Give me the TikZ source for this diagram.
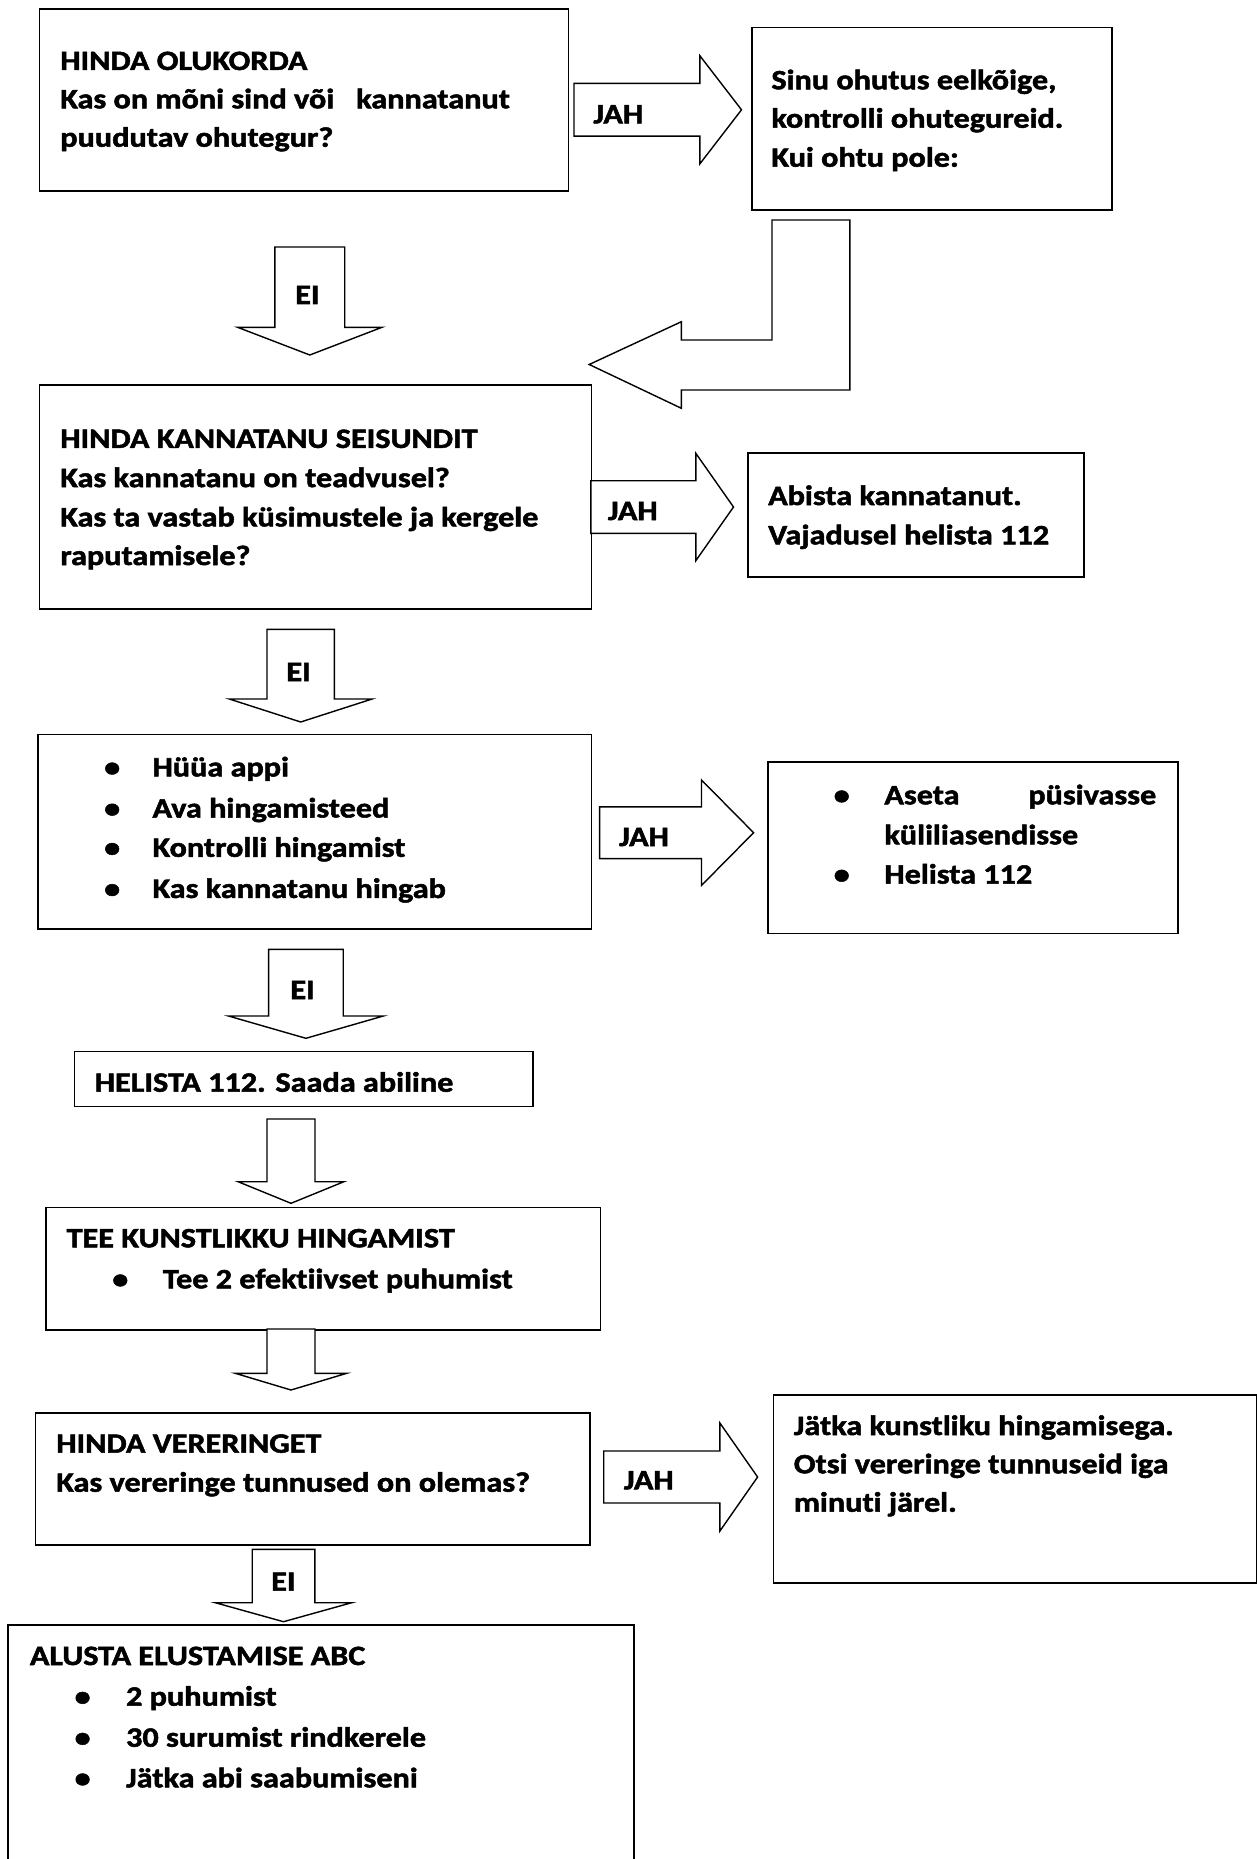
\documentclass[tikz,border=0pt]{standalone}
\usepackage{fontspec}
\setmainfont{Carlito}[Ligatures={TeX,NoCommon}, FakeStretch=1.15, BoldFeatures={FakeBold=1.8}]
\newcommand{\FS}{\fontsize{28}{40}\selectfont\bfseries}
\newcommand{\BlkR}[6]{% x0, xbase, xtip, ycenter, shaft half, head half
  \draw[blk] (#1,#4-#5) -- (#2,#4-#5) -- (#2,#4-#6) -- (#3,#4) -- (#2,#4+#6) -- (#2,#4+#5) -- (#1,#4+#5) -- cycle;}
\newcommand{\BlkD}[6]{% xcenter, ytop, ybase, ytip, shaft half, head half
  \draw[blk] (#1-#5,#2) -- (#1+#5,#2) -- (#1+#5,#3) -- (#1+#6,#3) -- (#1,#4) -- (#1-#6,#3) -- (#1-#5,#3) -- cycle;}
\begin{document}
\begin{tikzpicture}[x=1pt,y=-1pt,
  box/.style={draw, line width=1.6pt, inner sep=0pt, anchor=north west},
  blk/.style={draw, line width=1.4pt, fill=white, line join=miter},
  txt/.style={anchor=base west, inner sep=0pt, font=\FS},
  bul/.style={anchor=base, inner sep=0pt, font=\FS}]
\useasboundingbox[fill=white] (0,0) rectangle (1257,1859);

% boxes
\node[box, minimum width=529.1pt, minimum height=181.7pt] (b1) at (38.5,8.3) {};
\node[box, minimum width=359.8pt, minimum height=182.3pt] (b2) at (751.2,26.7) {};
\node[box, minimum width=552.3pt, minimum height=223.6pt] (b3) at (38.5,384.3) {};
\node[box, minimum width=336pt, minimum height=124pt] (b4) at (747,452) {};
\node[box, minimum width=553.9pt, minimum height=194.6pt] (b5) at (36.9,733.6) {};
\node[box, minimum width=409.7pt, minimum height=171.1pt] (b6) at (767.2,761.4) {};
\node[box, minimum width=458.5pt, minimum height=55pt] (b7) at (73.8,1050.7) {};
\node[box, minimum width=554.7pt, minimum height=122.3pt] (b8) at (44.9,1206.7) {};
\node[box, minimum width=554.7pt, minimum height=132pt] (b9) at (34.5,1412) {};
\node[box, minimum width=483.4pt, minimum height=188pt] (b10) at (772.8,1394) {};
\draw[line width=1.6pt] (8,1870) -- (8,1625) -- (634.1,1625) -- (634.1,1870);

% block arrows
\BlkR{574}{699.9}{741.5}{109.8}{26.4}{54}
\draw[blk] (772,220) -- (849.8,220) -- (849.8,390) -- (681.4,390) -- (681.4,408.3)
  -- (589.2,364.5) -- (681.4,321.7) -- (681.4,340) -- (772,340) -- cycle;
\BlkD{309.8}{247}{327.3}{355}{34.9}{72.2}
\BlkR{590.8}{695.8}{733.5}{507}{26.3}{53.7}
\BlkD{300.7}{629.3}{699}{722}{33.7}{71.4}
\BlkR{599.6}{701.5}{753.6}{832.7}{25.9}{52.7}
\BlkD{305.9}{949.3}{1016}{1038.3}{37.3}{77.4}
\BlkD{291}{1119}{1181.7}{1203.3}{24}{52.9}
\BlkD{291}{1329}{1373.3}{1390}{24}{55.7}
\BlkR{603.7}{719.9}{757.6}{1477}{26}{54}
\BlkD{283.5}{1549.3}{1602.7}{1621.7}{31.3}{68.2}

% arrow labels
\node[txt] (l1) at (593.2,123.3) {JAH};
\node[txt] (l2) at (295,304) {EI};
\node[txt] (l3) at (607.7,520) {JAH};
\node[txt] (l4) at (286.2,681) {EI};
\node[txt] (l5) at (618.9,846) {JAH};
\node[txt] (l6) at (290.2,999) {EI};
\node[txt] (l7) at (623.7,1489.3) {JAH};
\node[txt] (l8) at (271,1590.7) {EI};

% box 1
\node[txt] (t1a) at (60.1,70) {HINDA OLUKORDA};
\node[txt] (t1b) at (60.1,108.3) {Kas on mõni sind või\hspace{22pt}kannatanut};
\node[txt] (t1c) at (60.1,146.7) {puudutav ohutegur?};
% box 2
\node[txt] (t2a) at (771.2,89.3) {Sinu ohutus eelkõige,};
\node[txt] (t2b) at (771.2,127.7) {kontrolli ohutegureid.};
\node[txt] (t2c) at (771.2,166.7) {Kui ohtu pole:};
% box 3
\node[txt] (t3a) at (60.1,447.9) {HINDA KANNATANU SEISUNDIT};
\node[txt] (t3b) at (60.1,487.1) {Kas kannatanu on teadvusel?};
\node[txt] (t3c) at (60.1,526.4) {Kas ta vastab küsimustele ja kergele};
\node[txt] (t3d) at (60.1,565) {raputamisele?};
% box 4
\node[txt] (t4a) at (768,505) {Abista kannatanut.};
\node[txt] (t4b) at (768,544.3) {Vajadusel helista 112};
% box 5
\node[bul] (p5a) at (112.2,776.4) {\textbullet};
\node[bul] (p5b) at (112.2,817.5) {\textbullet};
\node[bul] (p5c) at (112.2,856.8) {\textbullet};
\node[bul] (p5d) at (112.2,897.9) {\textbullet};
\node[txt] (t5a) at (152.3,776.4) {Hüüa appi};
\node[txt] (t5b) at (152.3,817.5) {Ava hingamisteed};
\node[txt] (t5c) at (152.3,856.8) {Kontrolli hingamist};
\node[txt] (t5d) at (152.3,897.9) {Kas kannatanu hingab};
% box 6
\node[bul] (p6a) at (841.7,804.3) {\textbullet};
\node[bul] (p6b) at (841.7,883.6) {\textbullet};
\node[txt] (t6a) at (884.2,804.3) {\makebox[271.8pt][s]{Aseta\hfill püsivasse}};
\node[txt] (t6b) at (884.2,844.3) {küliliasendisse};
\node[txt] (t6c) at (884.2,883.6) {Helista 112};
% box 7
\node[txt] (t7a) at (94.6,1091.7) {HELISTA 112. Saada abiline};
% box 8
\node[txt] (t8a) at (66.5,1247.3) {TEE KUNSTLIKKU HINGAMIST};
\node[bul] (p8a) at (120.3,1288.3) {\textbullet};
\node[txt] (t8b) at (162.7,1288.3) {Tee 2 efektiivset puhumist};
% box 9
\node[txt] (t9a) at (56.1,1452.7) {HINDA VERERINGET};
\node[txt] (t9b) at (56.1,1491.7) {Kas vereringe tunnused on olemas?};
% box 10
\node[txt] (t10a) at (793.6,1435) {Jätka kunstliku hingamisega.};
\node[txt] (t10b) at (793.6,1473.3) {Otsi vereringe tunnuseid iga};
\node[txt] (t10c) at (793.6,1511.7) {minuti järel.};
% box 11
\node[txt] (t11a) at (29.7,1665) {ALUSTA ELUSTAMISE ABC};
\node[bul] (p11a) at (82.6,1705.7) {\textbullet};
\node[bul] (p11b) at (82.6,1746.7) {\textbullet};
\node[bul] (p11c) at (82.6,1787.3) {\textbullet};
\node[txt] (t11b) at (125.9,1705.7) {2 puhumist};
\node[txt] (t11c) at (125.9,1746.7) {30 surumist rindkerele};
\node[txt] (t11d) at (125.9,1787.3) {Jätka abi saabumiseni};
\end{tikzpicture}
\end{document}
